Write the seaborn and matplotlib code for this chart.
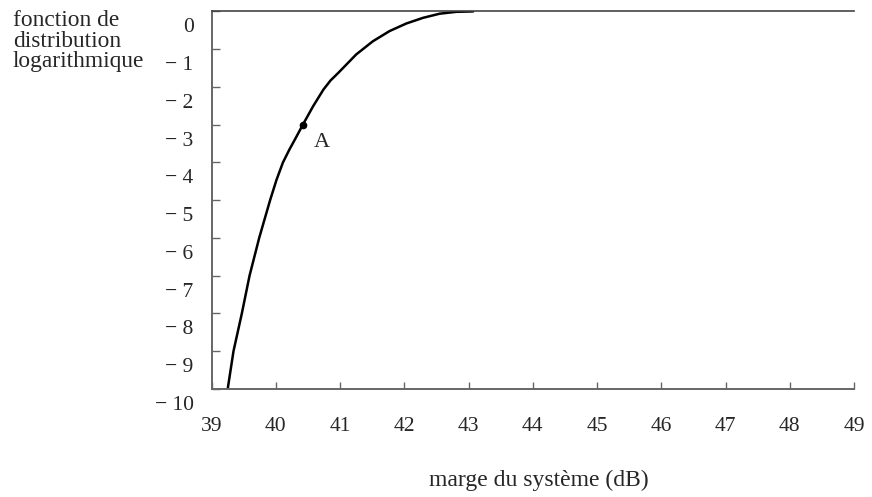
import matplotlib
matplotlib.use("Agg")
import matplotlib.pyplot as plt
import matplotlib.transforms as mtransforms
import seaborn as sns
import pandas as pd

# curve
marge_db = [39.25, 39.34, 39.47, 39.59, 39.74, 39.91, 40.01, 40.11, 40.21, 40.30,
            40.42, 40.58, 40.74, 40.85, 40.97, 41.05, 41.25, 41.51, 41.77, 42.03,
            42.29, 42.55, 42.81, 43.07]
log_dist = [-10.0, -9.0, -8.0, -7.0, -6.0, -5.0, -4.46, -4.0, -3.66, -3.38,
            -3.0, -2.51, -2.07, -1.83, -1.63, -1.49, -1.14, -0.79, -0.52, -0.32,
            -0.17, -0.06, -0.01, 0.0]

point_a = (40.42, -3.0)
x_ticks = list(range(39, 50))
y_ticks = list(range(0, -11, -1))
y_labels = ["0"] + [f"\u2212 {abs(v)}" for v in y_ticks[1:]]

sns.set_style("ticks")
plt.rcParams["font.family"] = ["Liberation Serif", "DejaVu Serif"]
fs = 15.5

df = pd.DataFrame({"marge": marge_db, "dist": log_dist})

fig = plt.figure(figsize=(8.72, 4.97), dpi=100)
ax = fig.add_axes([0.2427, 0.2173, 0.7367, 0.7597])

sns.lineplot(data=df, x="marge", y="dist", sort=False, estimator=None,
             color="black", lw=1.8, ax=ax)
ax.plot(*point_a, "o", color="black", ms=4.5)
ax.text(point_a[0] + 0.3, point_a[1] - 0.48, "A", fontsize=16,
        ha="center", va="center")

ax.set_xlim(39, 49)
ax.set_ylim(-10, 0)
ax.set_xticks(x_ticks)
ax.set_yticks(y_ticks)
ax.set_yticklabels(y_labels)

ax.tick_params(axis="x", direction="in", length=5, width=1, color="#666666",
               labelsize=fs, pad=20)
ax.tick_params(axis="y", direction="in", length=6, width=1, color="#666666",
               labelsize=fs, pad=13)

# y labels sit a bit below their ticks in the original
off = mtransforms.ScaledTranslation(0, -14 / 100, fig.dpi_scale_trans)
for t in ax.yaxis.get_major_ticks():
    t.label1.set_transform(t.label1.get_transform() + off)

for side in ["left", "bottom"]:
    ax.spines[side].set_color("#666666")
    ax.spines[side].set_linewidth(1.4)
ax.spines["top"].set_color("#444444")
ax.spines["top"].set_linewidth(1.2)
ax.spines["right"].set_visible(False)

ax.set_xlabel("marge du système (dB)", fontsize=17, labelpad=26)
ax.xaxis.set_label_coords(0.51, -0.215)
ax.set_ylabel("")
fig.text(13 / 872, 1 - 10 / 497, "fonction de\ndistribution\nlogarithmique",
         fontsize=16.8, ha="left", va="top", linespacing=0.98)

fig.savefig("out.png", dpi=100)
